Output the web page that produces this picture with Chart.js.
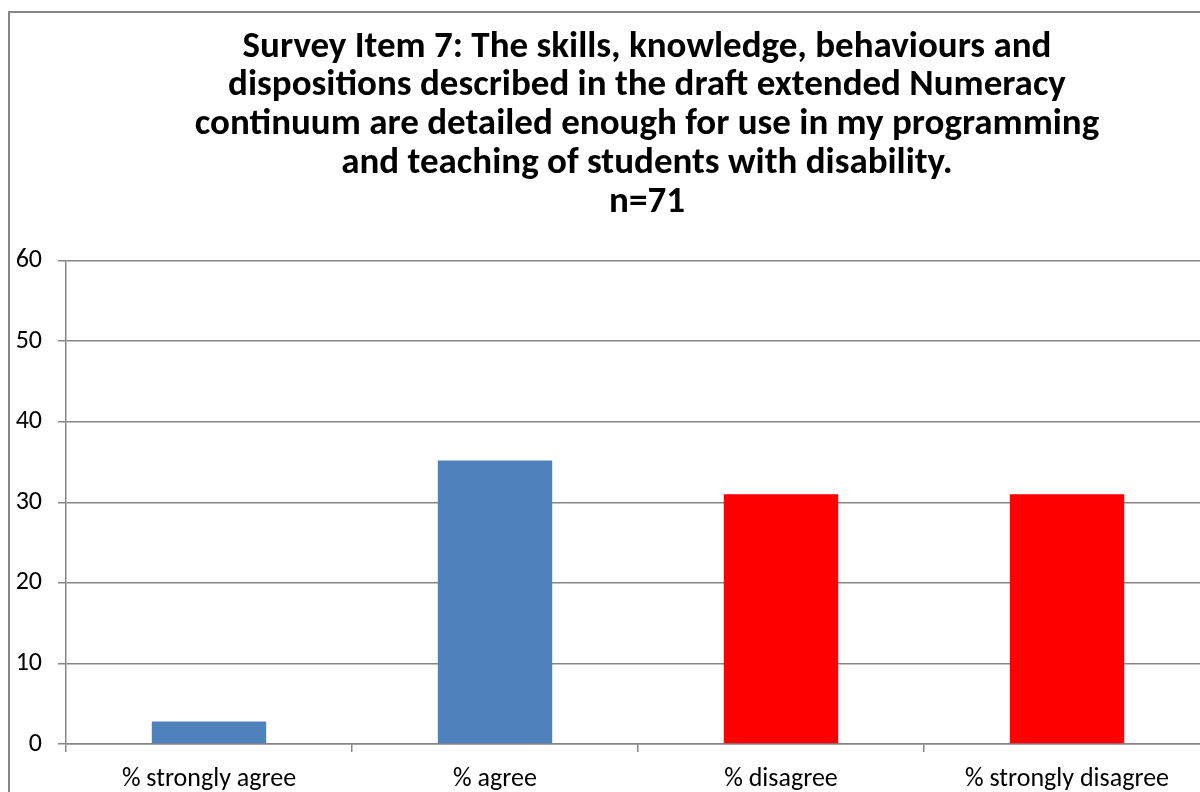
<!DOCTYPE html>
<html>
<head>
<meta charset="utf-8">
<script src="https://cdn.jsdelivr.net/npm/chart.js@4"></script>
<style>
  html, body { margin: 0; padding: 0; background: #fff; overflow: hidden; width: 1200px; height: 792px; }
  #wrap { position: absolute; left: 0; top: 0; width: 1294px; height: 800px; }
</style>
</head>
<body>
<div id="wrap"><canvas id="myChart" width="1294" height="800"></canvas></div>
<script>
// datos del gráfico (porcentajes, n=71)
const categorias = ["% strongly agree", "% agree", "% disagree", "% strongly disagree"];
const valores = [2.8, 35.2, 31.0, 31.0];
const colores = ["#4F81BD", "#4F81BD", "#FF0000", "#FF0000"];
const tituloLineas = [
    "Survey Item 7: The skills, knowledge, behaviours and",
    "dispositions described in the draft extended Numeracy",
    "continuum are detailed enough for use in my programming",
    "and teaching of students with disability.",
    "n=71"
];
const fuente = "Carlito, Calibri, Lato, 'Open Sans', sans-serif";

// fondo blanco y borde exterior del gráfico
const bordeGrafico = {
    id: "bordeGrafico",
    beforeDraw(chart) {
        const c = chart.ctx;
        c.save();
        c.fillStyle = "#fff";
        c.fillRect(0, 0, chart.width, chart.height);
        c.strokeStyle = "#868686";
        c.lineWidth = 2;
        c.strokeRect(9, 12, 3000, 3000);
        c.restore();
    }
};

const ctx = document.getElementById("myChart").getContext("2d");
const myChart = new Chart(ctx, {
    type: "bar",
    data: {
        labels: categorias,
        datasets: [{
            data: valores,
            backgroundColor: colores,
            borderWidth: 0,
            categoryPercentage: 1,
            barPercentage: 0.4
        }]
    },
    options: {
        responsive: false,
        animation: false,
        layout: { padding: 0 },
        plugins: {
            legend: { display: false },
            tooltip: { enabled: false },
            title: {
                display: true,
                text: tituloLineas,
                color: "#000",
                font: { family: fuente, size: 37, weight: "bold", lineHeight: 1.047 },
                padding: { top: 28, bottom: 39 }
            }
        },
        scales: {
            x: {
                grid: { display: true, drawOnChartArea: false, drawTicks: true, tickLength: 8, offset: true, color: "#868686", lineWidth: 1.5 },
                border: { display: true, color: "#868686", width: 1.5 },
                ticks: { color: "#000", padding: 12, font: { family: fuente, size: 26 } },
                afterFit(scale) { scale.height = 56; }
            },
            y: {
                min: 0,
                max: 60,
                ticks: { stepSize: 10, color: "#000", padding: 16, font: { family: fuente, size: 26 } },
                grid: { color: "#868686", lineWidth: 1.5, tickLength: 8 },
                border: { display: true, color: "#868686", width: 1.5 },
                afterFit(scale) { scale.width = 66; }
            },
            // eje vacío a la derecha para dejar el margen del área de trazado
            y2: {
                position: "right",
                display: true,
                ticks: { display: false },
                grid: { display: false },
                border: { display: false },
                afterFit(scale) { scale.width = 84; }
            }
        }
    },
    plugins: [bordeGrafico]
});
</script>
</body>
</html>
